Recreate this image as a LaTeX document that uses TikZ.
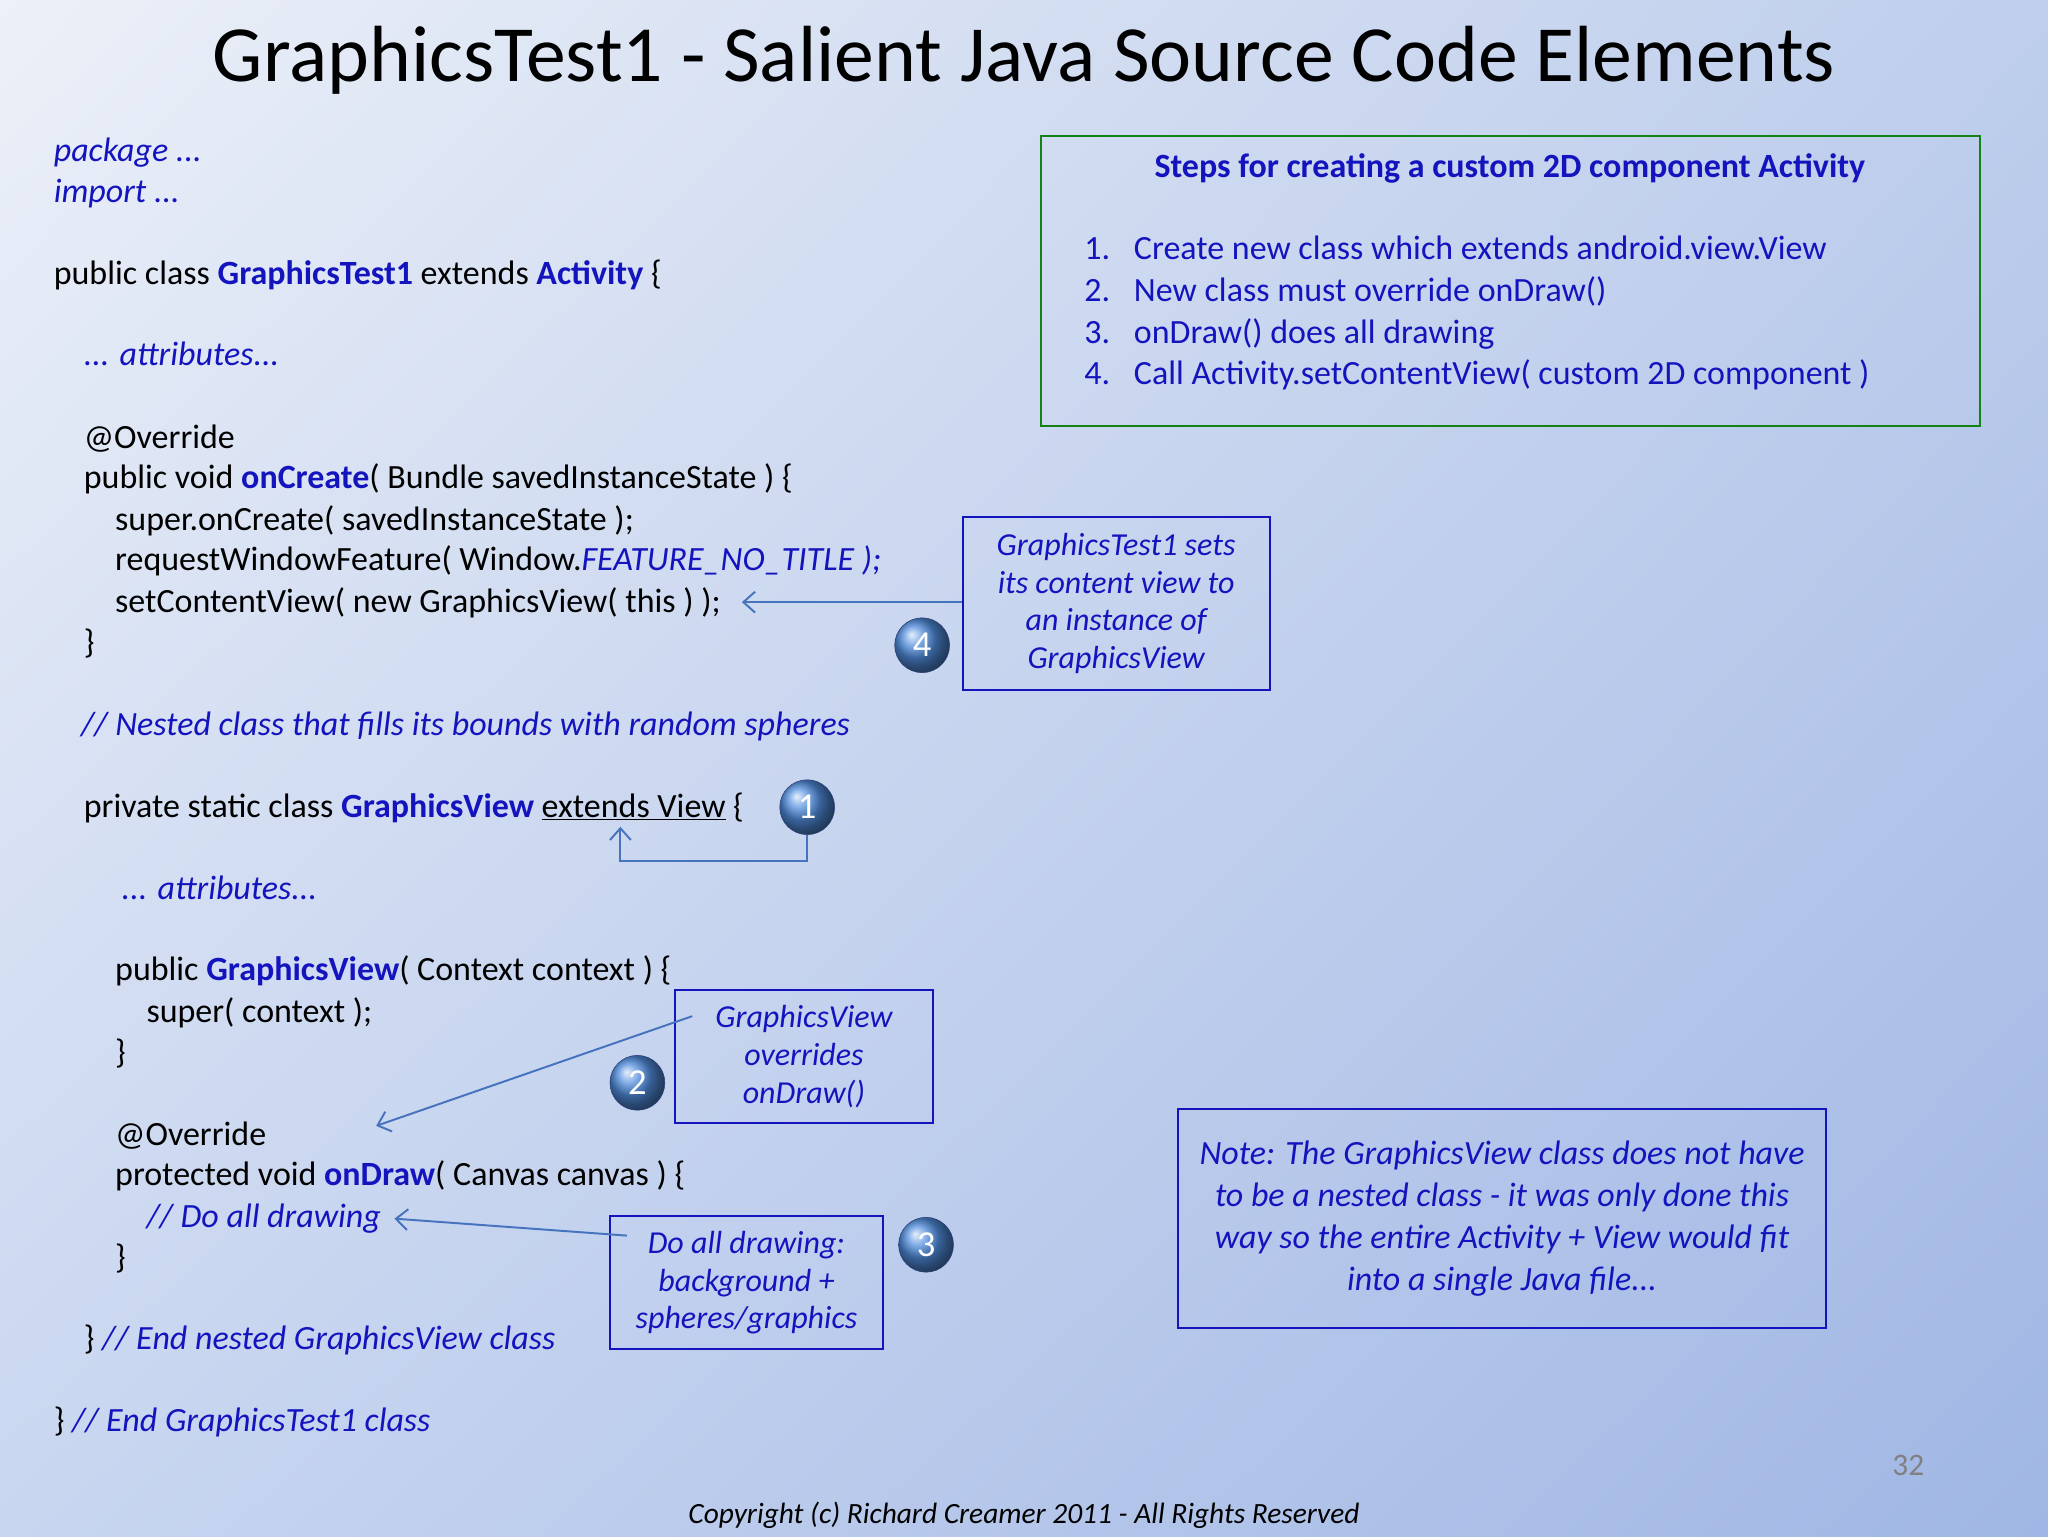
\documentclass[tikz,border=0pt]{standalone}
\usepackage{fontspec}
\setmainfont{Carlito}
\usetikzlibrary{arrows.meta,shadings}
\definecolor{cblue}{RGB}{20,20,190}
\definecolor{lblue}{RGB}{70,115,190}
\definecolor{gbord}{RGB}{20,130,20}
\begin{document}
\begin{tikzpicture}[x=1pt,y=-1pt,
  code/.style={anchor=base west,inner sep=0pt,font=\fontsize{26}{30}\selectfont},
  cmt/.style={code,text=cblue,font=\fontsize{26}{30}\selectfont\itshape},
  boxt/.style={draw=cblue,line width=1.5pt,align=center,text=cblue,font=\fontsize{24.5}{29}\selectfont\itshape,inner sep=0pt},
  ball/.style={circle,minimum size=42pt,inner sep=0pt,ball color={rgb,255:red,80;green,140;blue,220},draw={rgb,255:red,40;green,60;blue,120},text=white,font=\fontsize{28}{30}\selectfont},
  conn/.style={draw=lblue,line width=1.5pt,-{Straight Barb[length=9pt,width=16pt]}}]
\useasboundingbox (0,0) rectangle (1568,1176);
\shade[upper left={rgb,255:red,236;green,240;blue,248},upper right={rgb,255:red,190;green,206;blue,236},lower left={rgb,255:red,200;green,214;blue,240},lower right={rgb,255:red,160;green,182;blue,228}] (0,0) rectangle (1568,1176);
\node[font=\fontsize{61}{66}\selectfont] (title) at (784,46) {GraphicsTest1 - Salient Java Source Code Elements};
\newcommand\B[1]{\textbf{\textcolor{cblue}{#1}}}
\node[cmt] (l1) at (41,124) {package ...};
\node[cmt] (l2) at (41,155) {import ...};
\node[code] (l3) at (41,218) {public class \B{GraphicsTest1} extends \B{Activity} \{};
\node[cmt] (l4) at (64,280) {... attributes...};
\node[code] (l5) at (64,343) {@Override};
\node[code] (l6) at (64,374) {public void \B{onCreate}( Bundle savedInstanceState ) \{};
\node[code] (l7) at (88,406) {super.onCreate( savedInstanceState );};
\node[code] (l8) at (88,437) {requestWindowFeature( Window.\textcolor{cblue}{\itshape FEATURE\_NO\_TITLE} \textcolor{cblue}{\itshape);}};
\node[code] (l9) at (88,469) {setContentView( new GraphicsView( this ) );};
\node[code] (l10) at (64,500) {\}};
\node[cmt] (l11) at (62,563) {// Nested class that fills its bounds with random spheres};
\node[code] (l12) at (64,626) {private static class \B{GraphicsView} \underline{extends View} \{};
\node[cmt] (l13) at (93,689) {... attributes...};
\node[code] (l14) at (88,751) {public \B{GraphicsView}( Context context ) \{};
\node[code] (l15) at (112,783) {super( context );};
\node[code] (l16) at (88,814) {\}};
\node[code] (l17) at (88,877) {@Override};
\node[code] (l18) at (88,908) {protected void \B{onDraw}( Canvas canvas ) \{};
\node[cmt] (l19) at (112,940) {// Do all drawing};
\node[code] (l20) at (88,971) {\}};
\node[code] (l21) at (64,1033) {\} \textcolor{cblue}{\itshape // End nested GraphicsView class}};
\node[code] (l22) at (41,1096) {\} \textcolor{cblue}{\itshape // End GraphicsTest1 class}};
% steps box
\draw[gbord,line width=2pt] (797,104) rectangle (1516,326);
\node[text=cblue,font=\fontsize{26}{30}\selectfont\bfseries] (st) at (1156,129) {Steps for creating a custom 2D component Activity};
\foreach \n/\t/\y in {1/Create new class which extends android.view.View/199,2/New class must override onDraw()/231,3/onDraw() does all drawing/263,4/Call Activity.setContentView( custom 2D component )/294}{
  \node[code,text=cblue] (sn\n) at (830,\y) {\n.};
  \node[code,text=cblue] (sl\n) at (868,\y) {\t};}
% box 4
\node[boxt,minimum width=235pt,minimum height=132pt] (b4) at (854.5,462) {GraphicsTest1 sets\\its content view to\\an instance of\\GraphicsView};
\node[ball] (c4) at (706,494) {4};
\coordinate (a4) at (568,461);
\draw[conn] (b4.west |- a4) -- (a4);
% 1
\node[ball] (c1) at (618,618) {1};
\coordinate (a1) at (475,633);
\draw[conn] (c1.south) -- (618,659) -- (475,659) -- (a1);
% box 2
\node[boxt,minimum width=197pt,minimum height=102pt] (b2) at (615.5,809) {GraphicsView\\overrides\\onDraw()};
\node[ball] (c2) at (488,829) {2};
\coordinate (s2) at (530,778);
\coordinate (a2) at (288,862);
\draw[conn] (s2) -- (a2);
% box 3
\node[boxt,minimum width=209pt,minimum height=102pt] (b3) at (571.5,982) {Do all drawing:\\background +\\spheres/graphics};
\node[ball] (c3) at (709,953) {3};
\coordinate (s3) at (480,946);
\coordinate (a3) at (302,933);
\draw[conn] (s3) -- (a3);
% note
\node[boxt,minimum width=496pt,minimum height=168pt,font=\fontsize{26}{32}\selectfont\itshape] (note) at (1150,933) {Note: The GraphicsView class does not have\\to be a nested class - it was only done this\\way so the entire Activity + View would fit\\into a single Java file...};
\node[text=gray,font=\fontsize{24}{26}\selectfont] (pg) at (1461,1122) {32};
\node[font=\fontsize{22.5}{26}\selectfont\itshape] (cp) at (784,1160) {Copyright (c) Richard Creamer 2011 - All Rights Reserved};
\end{tikzpicture}
\end{document}
